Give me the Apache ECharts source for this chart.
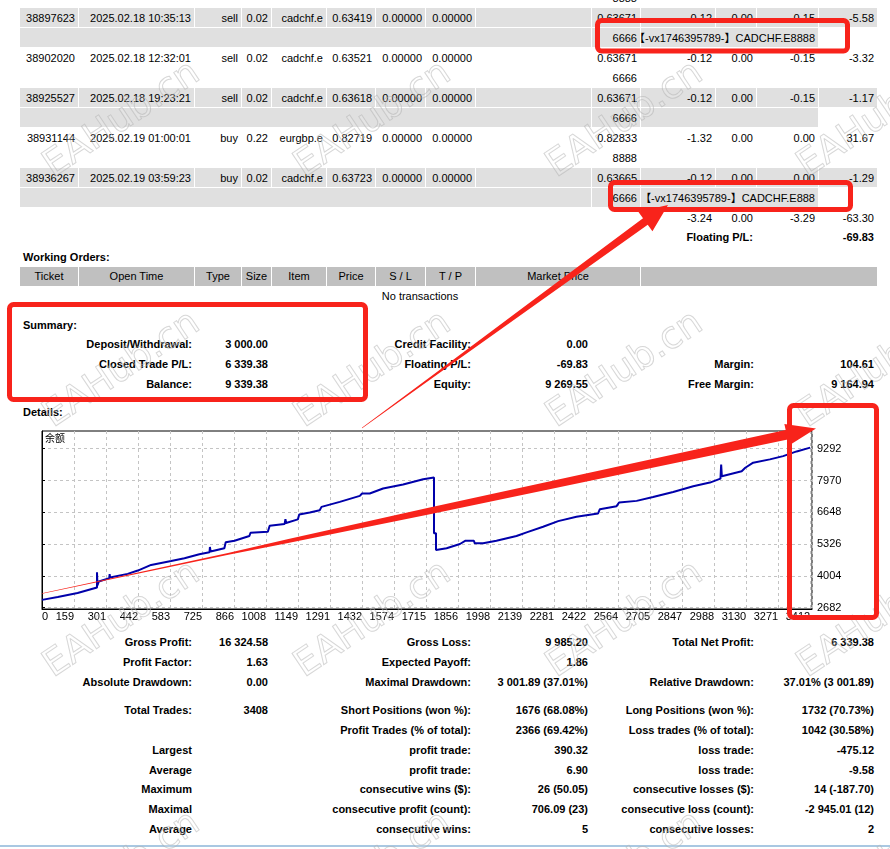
<!DOCTYPE html>
<html>
<head>
<meta charset="utf-8">
<script src="https://cdn.jsdelivr.net/npm/echarts@6/dist/echarts.min.js"></script>
<style>
html,body{margin:0;padding:0;background:#fff;width:890px;height:849px;overflow:hidden;}
body{position:relative;font-family:'Liberation Sans','Noto Sans CJK SC',Arial,sans-serif;font-size:11px;color:#000;}
.t{position:absolute;height:14px;line-height:14px;white-space:nowrap;}
.r{position:absolute;}
#chart{position:absolute;left:0;top:0;width:890px;height:849px;z-index:5;pointer-events:none;}
</style>
</head>
<body>
<div id="layer"></div>
<div id="chart"></div>
<script>
// ---------------- data ----------------
const tradeRows = [
  ['38897623','2025.02.18 10:35:13','sell','0.02','cadchf.e','0.63419','0.00000','0.00000','','0.63671','-0.12','0.00','-0.15','-5.58'],
  ['38902020','2025.02.18 12:32:01','sell','0.02','cadchf.e','0.63521','0.00000','0.00000','','0.63671','-0.12','0.00','-0.15','-3.32'],
  ['38925527','2025.02.18 19:23:21','sell','0.02','cadchf.e','0.63618','0.00000','0.00000','','0.63671','-0.12','0.00','-0.15','-1.17'],
  ['38931144','2025.02.19 01:00:01','buy','0.22','eurgbp.e','0.82719','0.00000','0.00000','','0.82833','-1.32','0.00','0.00','31.67'],
  ['38936267','2025.02.19 03:59:23','buy','0.02','cadchf.e','0.63723','0.00000','0.00000','','0.63665','-0.12','0.00','0.00','-1.29']
];
const subRows = [
  ['6666','【-vx1746395789-】CADCHF.E8888'],
  ['6666',''],
  ['6666',''],
  ['8888',''],
  ['6666','【-vx1746395789-】CADCHF.E888']
];
const totalsRow = ['-3.24','0.00','-3.29','-63.30'];
const workingHeaders = ['Ticket','Open Time','Type','Size','Item','Price','S / L','T / P','Market Price',''];
const summaryRows = [
  ['Deposit/Withdrawal:','3 000.00','Credit Facility:','0.00','',''],
  ['Closed Trade P/L:','6 339.38','Floating P/L:','-69.83','Margin:','104.61'],
  ['Balance:','9 339.38','Equity:','9 269.55','Free Margin:','9 164.94']
];
const detailRows = [
  ['Gross Profit:','16 324.58','Gross Loss:','9 985.20','Total Net Profit:','6 339.38'],
  ['Profit Factor:','1.63','Expected Payoff:','1.86','',''],
  ['Absolute Drawdown:','0.00','Maximal Drawdown:','3 001.89 (37.01%)','Relative Drawdown:','37.01% (3 001.89)'],
  ['Total Trades:','3408','Short Positions (won %):','1676 (68.08%)','Long Positions (won %):','1732 (70.73%)'],
  ['','','Profit Trades (% of total):','2366 (69.42%)','Loss trades (% of total):','1042 (30.58%)'],
  ['Largest','','profit trade:','390.32','loss trade:','-475.12'],
  ['Average','','profit trade:','6.90','loss trade:','-9.58'],
  ['Maximum','','consecutive wins ($):','26 (50.05)','consecutive losses ($):','14 (-187.70)'],
  ['Maximal','','consecutive profit (count):','706.09 (23)','consecutive loss (count):','-2 945.01 (12)'],
  ['Average','','consecutive wins:','5','consecutive losses:','2']
];
// balance curve: trade number / balance
const balanceTrade = [0,70,158,244,244,246,252,299,300,302,380,425,484,573,632,698,743,745,748,809,815,854,920,925,1002,1010,1076,1080,1083,1135,1141,1188,1232,1240,1321,1410,1420,1454,1513,1602,1691,1739,1739,1748,1748,1795,1854,1879,1916,1920,1957,2016,2105,2150,2223,2290,2371,2467,2475,2549,2560,2638,2711,2800,2889,2963,3010,3013,3016,3022,3104,3120,3155,3229,3288,3348,3408];
const balanceValue = [3000,3117,3283,3515,4153,3600,3764,3905,4071,3930,4083,4220,4456,4622,4733,4899,4982,5202,5010,5148,5397,5463,5658,5795,5836,6085,6155,6362,6200,6350,6557,6640,6735,6872,7079,7328,7427,7427,7634,7800,8020,8090,5770,5770,5078,5148,5326,5463,5463,5355,5355,5463,5658,5811,6043,6279,6458,6598,6777,6901,7054,7121,7286,7494,7730,7883,8049,8629,8150,8215,8351,8500,8712,8849,8985,9180,9339];
const xTickLabels = ['0','159','301','442','583','725','866','1008','1149','1291','1432','1574','1715','1856','1998','2139','2281','2422','2564','2705','2847','2988','3130','3271','3412'];
const yTickValues = [2682,4004,5326,6648,7970,9292];
const chartTitle = '余额';

// ---------------- html layer ----------------
const layer = document.getElementById('layer');
function T(x,y,s,align,bold){
  const d=document.createElement('div'); d.className='t'; d.textContent=s;
  d.style.top=(y-7)+'px';
  if(align==='right'){d.style.left=(x-500)+'px';d.style.width='500px';d.style.textAlign='right';}
  else if(align==='center'){d.style.left=(x-250)+'px';d.style.width='500px';d.style.textAlign='center';}
  else {d.style.left=x+'px';}
  if(bold) d.style.fontWeight='bold';
  layer.appendChild(d);
}
function R(x1,y1,x2,y2,c){
  const d=document.createElement('div'); d.className='r';
  d.style.left=x1+'px';d.style.top=y1+'px';d.style.width=(x2-x1)+'px';d.style.height=(y2-y1)+'px';d.style.background=c;
  layer.appendChild(d);
}
const cols=[[20,78],[79,194],[195,241],[242,271],[272,326],[327,375],[376,425],[426,475],[476,591],[592,640],[641,715],[716,756],[757,818],[819,877]];
const GRAY='#E0E0E0';
// partial previous row
T(637,-2,'8888','right');
tradeRows.forEach((row,i)=>{
  const top=8+40*i, gray=(i%2===0);
  if(gray) cols.forEach(c=>R(c[0],top,c[1],top+19,GRAY));
  row.forEach((s,j)=>{ if(s) T(cols[j][1]-3,top+10,s,'right'); });
  const st=top+20;
  if(gray){R(20,st,591,st+19,GRAY);R(592,st,640,st+19,GRAY);R(641,st,818,st+19,GRAY);}
  T(637,st+10,subRows[i][0],'right');
  if(subRows[i][1]) T(815,st+10,subRows[i][1],'right');
});
totalsRow.forEach((s,k)=>T(cols[10+k][1]-3,218,s,'right'));
T(753,237,'Floating P/L:','right',true);
T(874,237,'-69.83','right',true);
T(23,257,'Working Orders:','left',true);
const hcols=[[20,78],[79,194],[195,241],[242,271],[272,326],[327,375],[376,425],[426,475],[476,640],[641,877]];
hcols.forEach((c,k)=>{R(c[0],267,c[1],286,'#C0C0C0'); if(workingHeaders[k]) T((c[0]+c[1])/2,276,workingHeaders[k],'center');});
T(420,296,'No transactions','center');
T(23,325,'Summary:','left',true);
const ends=[192,268,471,588,754,874];
summaryRows.forEach((row,i)=>row.forEach((s,j)=>{ if(s) T(ends[j],344+20*i,s,'right',true); }));
T(23,412,'Details:','left',true);
const dY=[642,662,682,710,730,750,770,789,809,829];
detailRows.forEach((row,i)=>row.forEach((s,j)=>{ if(s) T(ends[j],dY[i],s,'right',true); }));
R(0,845,890,847,'#A9C8E2');

// ---------------- chart ----------------
function arrowPoly(S,Tp,headLen,headHalf,prof){
  const dx=Tp[0]-S[0],dy=Tp[1]-S[1],L=Math.hypot(dx,dy),ux=dx/L,uy=dy/L,nx=-uy,ny=ux;
  const B=[Tp[0]-ux*headLen,Tp[1]-uy*headLen];
  const left=[],right=[];
  prof.forEach(([f,w])=>{const px=S[0]+(B[0]-S[0])*f,py=S[1]+(B[1]-S[1])*f;left.push([px+nx*w/2,py+ny*w/2]);right.push([px-nx*w/2,py-ny*w/2]);});
  return left.concat([[B[0]+nx*headHalf,B[1]+ny*headHalf],Tp,[B[0]-nx*headHalf,B[1]-ny*headHalf]]).concat(right.reverse());
}
const RED='#F8231B';
const graphics=[];
// watermarks
[120,370,620,870].forEach(cy=>[122,373,625,876].forEach(cx=>{
  graphics.push({type:'text',x:cx,y:cy,rotation:0.59,z:50,silent:true,
    style:{text:'EAHub.cn',fontSize:37,fontFamily:'DejaVu Sans',fill:'rgba(255,255,255,0.15)',stroke:'rgba(170,170,170,0.5)',lineWidth:1,align:'center',verticalAlign:'middle'}});
}));
// red boxes
[[597.5,20.5,250,30.5],[610.5,182.5,240,27],[9.5,304.5,356,95],[789.5,405.5,87,212]].forEach(b=>{
  graphics.push({type:'rect',z:100,silent:true,shape:{x:b[0],y:b[1],width:b[2],height:b[3],r:4},style:{fill:'none',stroke:RED,lineWidth:5}});
});
graphics.push({type:'polygon',z:100,silent:true,shape:{points:arrowPoly([42,593.5],[816,428.5],30,11,[[0,0.6],[0.25,1.8],[0.33,4],[0.52,6.5],[1,9.5]])},style:{fill:RED}});
graphics.push({type:'polygon',z:100,silent:true,shape:{points:arrowPoly([362,428],[668,205],28,12,[[0,0.5],[0.3,2.5],[0.6,5],[1,8]])},style:{fill:RED}});

const chart=echarts.init(document.getElementById('chart'),null,{renderer:'canvas',width:890,height:849});
const fontFam='Liberation Sans';
chart.setOption({
  animation:false,
  backgroundColor:'transparent',
  title:{text:chartTitle,left:45,top:433,padding:0,textStyle:{fontSize:10,fontWeight:'normal',color:'#000',fontFamily:'Noto Sans CJK SC'}},
  grid:{left:42,top:431,width:770,height:178,show:true,borderColor:'#000',borderWidth:1,backgroundColor:'transparent'},
  xAxis:{type:'value',min:0,max:3416,interval:142,
    axisLine:{show:true,onZero:false,lineStyle:{color:'#000',width:1}},
    axisTick:{show:false},
    splitLine:{show:true,lineStyle:{color:'#C4C4C4',width:1,type:[3,3]}},
    axisLabel:{color:'#000',fontSize:11,fontFamily:fontFam,margin:2,align:'right',alignMinLabel:'left',showMaxLabel:false,showMinLabel:true,
      formatter:v=>{const i=Math.round(v/142);return v>3410?'':(xTickLabels[i]||'');}}},
  yAxis:{type:'value',position:'right',min:2620,max:10030,
    axisLine:{show:true,lineStyle:{color:'#000',width:1}},
    axisTick:{show:true,length:3,inside:false,customValues:yTickValues,lineStyle:{color:'#000'}},
    splitLine:{show:true,lineStyle:{color:'#C4C4C4',width:1,type:[3,3]}},
    axisLabel:{customValues:yTickValues,color:'#000',fontSize:11,fontFamily:fontFam,margin:5,formatter:v=>String(Math.round(v))}},
  series:[{type:'line',data:balanceTrade.map((t,i)=>[t,balanceValue[i]]),symbol:'none',lineStyle:{color:'#0000AA',width:2},z:3}],
  graphic:graphics
});
</script>
</body>
</html>
